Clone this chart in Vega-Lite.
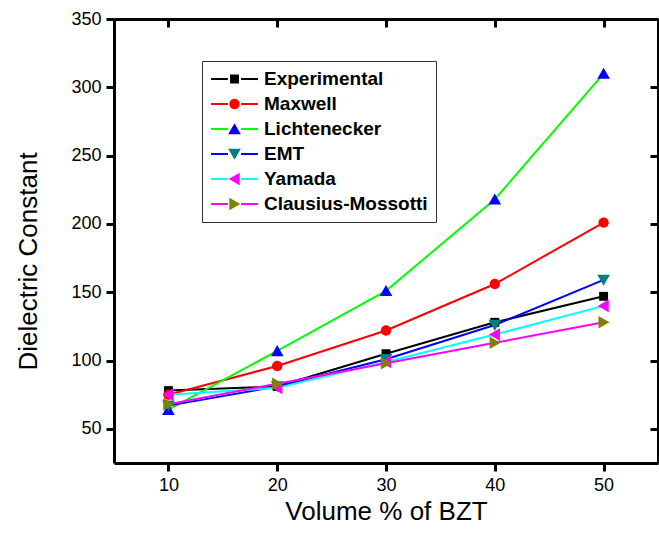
{
  "$schema": "https://vega.github.io/schema/vega-lite/v6.json",
  "width": 544,
  "height": 444,
  "padding": {"left": 15, "top": 10, "right": 0, "bottom": 19},
  "background": "white",
  "config": {"view": {"stroke": null}, "font": "Liberation Sans"},
  "data": {
    "values": [
      {"volume": 10, "dielectric": 78, "model": "Experimental"},
      {"volume": 20, "dielectric": 81, "model": "Experimental"},
      {"volume": 30, "dielectric": 105, "model": "Experimental"},
      {"volume": 40, "dielectric": 128, "model": "Experimental"},
      {"volume": 50, "dielectric": 147, "model": "Experimental"},
      {"volume": 10, "dielectric": 75, "model": "Maxwell"},
      {"volume": 20, "dielectric": 96, "model": "Maxwell"},
      {"volume": 30, "dielectric": 122, "model": "Maxwell"},
      {"volume": 40, "dielectric": 156, "model": "Maxwell"},
      {"volume": 50, "dielectric": 201, "model": "Maxwell"},
      {"volume": 10, "dielectric": 64, "model": "Lichtenecker"},
      {"volume": 20, "dielectric": 107, "model": "Lichtenecker"},
      {"volume": 30, "dielectric": 151, "model": "Lichtenecker"},
      {"volume": 40, "dielectric": 218, "model": "Lichtenecker"},
      {"volume": 50, "dielectric": 310, "model": "Lichtenecker"},
      {"volume": 10, "dielectric": 67, "model": "EMT"},
      {"volume": 20, "dielectric": 81, "model": "EMT"},
      {"volume": 30, "dielectric": 101, "model": "EMT"},
      {"volume": 40, "dielectric": 126, "model": "EMT"},
      {"volume": 50, "dielectric": 159, "model": "EMT"},
      {"volume": 10, "dielectric": 75, "model": "Yamada"},
      {"volume": 20, "dielectric": 80, "model": "Yamada"},
      {"volume": 30, "dielectric": 99, "model": "Yamada"},
      {"volume": 40, "dielectric": 119, "model": "Yamada"},
      {"volume": 50, "dielectric": 140, "model": "Yamada"},
      {"volume": 10, "dielectric": 68, "model": "Clausius-Mossotti"},
      {"volume": 20, "dielectric": 83, "model": "Clausius-Mossotti"},
      {"volume": 30, "dielectric": 98, "model": "Clausius-Mossotti"},
      {"volume": 40, "dielectric": 113, "model": "Clausius-Mossotti"},
      {"volume": 50, "dielectric": 128, "model": "Clausius-Mossotti"}
    ]
  },
  "layer": [
    {
      "mark": {"type": "line", "strokeWidth": 2},
      "encoding": {
        "x": {
          "field": "volume", "type": "quantitative",
          "scale": {"domain": [5, 55], "nice": false, "zero": false},
          "axis": {
            "orient": "bottom", "title": "Volume % of BZT",
            "values": [10, 20, 30, 40, 50],
            "tickSize": 8, "tickWidth": 3, "tickColor": "black", "domainWidth": 3, "domainColor": "black", "grid": false,
            "labelFontSize": 18, "labelPadding": 5,
            "titleFontSize": 26, "titleFontWeight": "normal", "titlePadding": 4
          }
        },
        "y": {
          "field": "dielectric", "type": "quantitative",
          "scale": {"domain": [25, 350], "nice": false, "zero": false},
          "axis": {
            "orient": "left", "title": "Dielectric Constant",
            "values": [50, 100, 150, 200, 250, 300, 350],
            "tickSize": 8, "tickWidth": 3, "tickColor": "black", "domainWidth": 3, "domainColor": "black", "grid": false,
            "labelFontSize": 18, "labelPadding": 5,
            "titleFontSize": 26, "titleFontWeight": "normal", "titlePadding": 29, "titleY": 242
          }
        },
        "color": {
          "field": "model", "type": "nominal",
          "sort": ["Experimental", "Maxwell", "Lichtenecker", "EMT", "Yamada", "Clausius-Mossotti"],
          "scale": {"range": ["#000000", "#ff0000", "#00ff00", "#0000ff", "#00ffff", "#ff00ff"]},
          "legend": {
            "orient": "none", "legendX": 88, "legendY": 42, "title": null,
            "symbolType": "M-1,0H-0.28M0.28,0H1", "symbolSize": 2200, "symbolStrokeWidth": 2,
            "labelFontSize": 19, "labelFontWeight": "bold", "labelColor": "black",
            "labelOffset": 5, "clipHeight": 20, "rowPadding": 5, "padding": 8,
            "strokeColor": "#333333", "fillColor": "white", "labelLimit": 400
          }
        }
      }
    },
    {
      "mark": {"type": "point", "filled": true, "size": 2200, "opacity": 1, "strokeWidth": 0},
      "encoding": {
        "x": {
          "field": "volume", "type": "quantitative",
          "axis": {
            "orient": "top", "title": null, "labels": false,
            "values": [10, 20, 30, 40, 50],
            "tickSize": -8, "tickWidth": 3, "tickColor": "black", "domainWidth": 3, "domainColor": "black", "grid": false
          }
        },
        "y": {
          "field": "dielectric", "type": "quantitative",
          "axis": {
            "orient": "right", "title": null, "labels": false,
            "values": [50, 100, 150, 200, 250, 300, 350],
            "tickSize": -8, "tickWidth": 3, "tickColor": "black", "domainWidth": 3, "domainColor": "black", "grid": false
          }
        },
        "fill": {
          "field": "model", "type": "nominal",
          "scale": {
            "domain": ["Experimental", "Maxwell", "Lichtenecker", "EMT", "Yamada", "Clausius-Mossotti"],
            "range": ["#000000", "#ff0000", "#0000ff", "#008080", "#ff00ff", "#808000"]
          },
          "legend": {
            "orient": "none", "legendX": 88, "legendY": 42, "title": null,
            "symbolSize": 2200, "symbolStrokeWidth": 2, "symbolStrokeColor": "transparent",
            "labelFontSize": 19, "labelFontWeight": "bold", "labelOpacity": 0,
            "labelOffset": 5, "clipHeight": 20, "rowPadding": 5, "padding": 8, "labelLimit": 400
          }
        },
        "shape": {
          "field": "model", "type": "nominal",
          "scale": {
            "domain": ["Experimental", "Maxwell", "Lichtenecker", "EMT", "Yamada", "Clausius-Mossotti"],
            "range": [
              "M-0.19,-0.19H0.19V0.19H-0.19Z",
              "M-0.22,0A0.22,0.22,0,1,0,0.22,0A0.22,0.22,0,1,0,-0.22,0Z",
              "M0,-0.25L0.27,0.22L-0.27,0.22Z",
              "M0,0.25L0.27,-0.22L-0.27,-0.22Z",
              "M-0.25,0L0.22,-0.27L0.22,0.27Z",
              "M0.25,0L-0.22,-0.27L-0.22,0.27Z"
            ]
          },
          "legend": {
            "orient": "none", "legendX": 88, "legendY": 42, "title": null,
            "symbolSize": 2200, "symbolStrokeWidth": 2, "symbolStrokeColor": "transparent",
            "labelFontSize": 19, "labelFontWeight": "bold", "labelOpacity": 0,
            "labelOffset": 5, "clipHeight": 20, "rowPadding": 5, "padding": 8, "labelLimit": 400
          }
        }
      }
    }
  ],
  "resolve": {"axis": {"x": "independent", "y": "independent"}}
}
